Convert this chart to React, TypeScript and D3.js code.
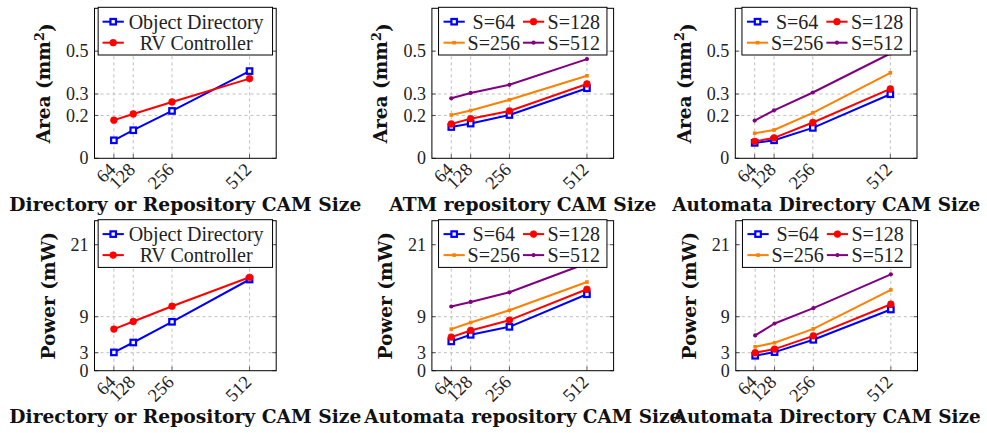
import React from "react";
import * as d3 from "d3";

// ---------- data ----------
const camSizes = [64, 128, 256, 512];
const xTickLabels = ["64", "128", "256", "512"];
const areaTicks = [0, 0.2, 0.3, 0.5];
const areaTickLabels = ["0", "0.2", "0.3", "0.5"];
const powerTicks = [0, 3, 9, 21];
const powerTickLabels = ["0", "3", "9", "21"];

const areaObjDir = [0.084, 0.131, 0.221, 0.407];
const areaRvCtrl = [0.178, 0.207, 0.263, 0.372];

const areaAtmS64 = [0.146, 0.162, 0.202, 0.327];
const areaAtmS128 = [0.16, 0.185, 0.221, 0.347];
const areaAtmS256 = [0.202, 0.223, 0.273, 0.385];
const areaAtmS512 = [0.28, 0.305, 0.343, 0.463];

const areaAutS64 = [0.072, 0.084, 0.142, 0.299];
const areaAutS128 = [0.079, 0.095, 0.167, 0.324];
const areaAutS256 = [0.117, 0.132, 0.212, 0.399];
const areaAutS512 = [0.176, 0.224, 0.307, 0.489];

const powerObjDir = [3.05, 4.7, 8.15, 15.2];
const powerRvCtrl = [6.93, 8.2, 10.75, 15.57];

const powerRepS64 = [4.88, 5.98, 7.31, 12.74];
const powerRepS128 = [5.6, 6.71, 8.42, 13.57];
const powerRepS256 = [6.93, 8.04, 10.08, 14.78];
const powerRepS512 = [10.7, 11.46, 13.07, 17.9];

const powerAutS64 = [2.49, 3.1, 5.15, 10.2];
const powerAutS128 = [2.99, 3.6, 5.81, 11.08];
const powerAutS256 = [3.99, 4.65, 6.98, 13.46];
const powerAutS512 = [5.88, 7.87, 10.42, 16.06];

const twoNames = ["Object Directory", "RV Controller"];
const fourNames = ["S=64", "S=128", "S=256", "S=512"];

// ---------- styles ----------
const BLUE = "#0000ff";
const RED = "#ff0000";
const ORANGE = "#ff8000";
const PURPLE = "#800080";
const SERIF = "'Liberation Serif', 'DejaVu Serif', serif";
const BOLD = "'DejaVu Serif', 'Liberation Serif', serif";

type Mark = "square" | "circle" | "smallsq" | "dot";
interface Series { name: string; values: number[]; color: string; mark: Mark; }
interface Panel {
  left: number; top: number; w: number; h: number;
  yMax: number; ticks: number[]; tickLabels: string[];
  series: Series[]; legendCols: number;
  ylabel: "area" | "power"; title: string; titleLen: number;
}

const twoSeries = (a: number[], b: number[]): Series[] => [
  { name: twoNames[0], values: a, color: BLUE, mark: "square" },
  { name: twoNames[1], values: b, color: RED, mark: "circle" },
];
const fourSeries = (a: number[], b: number[], c: number[], d: number[]): Series[] => [
  { name: fourNames[0], values: a, color: BLUE, mark: "square" },
  { name: fourNames[1], values: b, color: RED, mark: "circle" },
  { name: fourNames[2], values: c, color: ORANGE, mark: "smallsq" },
  { name: fourNames[3], values: d, color: PURPLE, mark: "dot" },
];

const W = 181.7, H = 150;
const panels: Panel[] = [
  { left: 94.5, top: 8.3, w: W, h: H, yMax: 0.7, ticks: areaTicks, tickLabels: areaTickLabels,
    series: twoSeries(areaObjDir, areaRvCtrl), legendCols: 1, ylabel: "area",
    title: "Directory or Repository CAM Size", titleLen: 352 },
  { left: 431.9, top: 8.3, w: W, h: H, yMax: 0.7, ticks: areaTicks, tickLabels: areaTickLabels,
    series: fourSeries(areaAtmS64, areaAtmS128, areaAtmS256, areaAtmS512), legendCols: 2, ylabel: "area",
    title: "ATM repository CAM Size", titleLen: 267 },
  { left: 735.3, top: 8.3, w: W, h: H, yMax: 0.7, ticks: areaTicks, tickLabels: areaTickLabels,
    series: fourSeries(areaAutS64, areaAutS128, areaAutS256, areaAutS512), legendCols: 2, ylabel: "area",
    title: "Automata Directory CAM Size", titleLen: 308 },
  { left: 94.5, top: 220.7, w: W, h: H, yMax: 25, ticks: powerTicks, tickLabels: powerTickLabels,
    series: twoSeries(powerObjDir, powerRvCtrl), legendCols: 1, ylabel: "power",
    title: "Directory or Repository CAM Size", titleLen: 352 },
  { left: 431.9, top: 220.7, w: W, h: H, yMax: 25, ticks: powerTicks, tickLabels: powerTickLabels,
    series: fourSeries(powerRepS64, powerRepS128, powerRepS256, powerRepS512), legendCols: 2, ylabel: "power",
    title: "Automata repository CAM Size", titleLen: 317 },
  { left: 735.8, top: 220.7, w: W, h: H, yMax: 25, ticks: powerTicks, tickLabels: powerTickLabels,
    series: fourSeries(powerAutS64, powerAutS128, powerAutS256, powerAutS512), legendCols: 2, ylabel: "power",
    title: "Automata Directory CAM Size", titleLen: 308 },
];

function Marker({ m, x, y, c }: { m: Mark; x: number; y: number; c: string }) {
  if (m === "square") return <rect x={x - 2.75} y={y - 2.75} width={5.5} height={5.5} fill="#ffffff" stroke={c} strokeWidth={2.2} />;
  if (m === "circle") return <circle cx={x} cy={y} r={3.4} fill={c} stroke={c} strokeWidth={0.6} />;
  if (m === "smallsq") return <rect x={x - 1.8} y={y - 1.8} width={3.6} height={3.6} fill={c} />;
  return <circle cx={x} cy={y} r={2.1} fill={c} />;
}

function PanelView({ p }: { p: Panel }) {
  const x = d3.scaleLinear().domain([0, 600]).range([p.left, p.left + p.w]);
  const y = d3.scaleLinear().domain([0, p.yMax]).range([p.top + p.h, p.top]);
  const line = d3.line<number>().x((_, i) => x(camSizes[i])).y((v) => y(v));
  const bottom = p.top + p.h;
  const right = p.left + p.w;
  const cx = p.left + p.w / 2;
  const cy = p.top + p.h / 2;
  const clipId = `clip-${Math.round(p.left)}-${Math.round(p.top)}`;

  // legend
  const legW = p.legendCols === 1 ? 174.4 : 168.4;
  const legH = 47.7;
  const legL = cx - legW / 2;
  const legT = p.top - 1;
  const rows = [14.4, 35.4];
  const entries = p.series.map((s, i) => {
    const col = p.legendCols === 1 ? 0 : i % 2;
    const row = p.legendCols === 1 ? i : Math.floor(i / 2);
    const lx0 = p.legendCols === 1 ? 4.4 : col === 0 ? 5 : 84.4;
    const lx1 = lx0 + (p.legendCols === 1 ? 21.3 : 21.2);
    const tx = p.legendCols === 1 ? 98 : col === 0 ? 55.2 : 135.2;
    return { s, ly: legT + rows[row], lx0: legL + lx0, lx1: legL + lx1, tx: legL + tx };
  });

  const ylx = p.ylabel === "area" ? p.left - 44.5 : p.left - 39.5;

  return (
    <g>
      <defs>
        <clipPath id={clipId}>
          <rect x={p.left} y={p.top} width={p.w} height={p.h} />
        </clipPath>
      </defs>
      {/* grid */}
      {camSizes.map((v) => (
        <line key={"gx" + v} x1={x(v)} x2={x(v)} y1={p.top} y2={bottom} stroke="#b8b8b8" strokeWidth={0.9} strokeDasharray="3,3" />
      ))}
      {p.ticks.filter((t) => t !== 0).map((t) => (
        <line key={"gy" + t} x1={p.left} x2={right} y1={y(t)} y2={y(t)} stroke="#b8b8b8" strokeWidth={0.9} strokeDasharray="3,3" />
      ))}
      {/* ticks */}
      {camSizes.map((v) => (
        <g key={"tx" + v}>
          <line x1={x(v)} x2={x(v)} y1={bottom} y2={bottom - 4} stroke="#333" strokeWidth={0.8} />
          <line x1={x(v)} x2={x(v)} y1={p.top} y2={p.top + 4} stroke="#333" strokeWidth={0.8} />
        </g>
      ))}
      {p.ticks.map((t) => (
        <g key={"ty" + t}>
          <line x1={p.left} x2={p.left + 4} y1={y(t)} y2={y(t)} stroke="#333" strokeWidth={0.8} />
          <line x1={right} x2={right - 4} y1={y(t)} y2={y(t)} stroke="#333" strokeWidth={0.8} />
        </g>
      ))}
      {/* series */}
      <g clipPath={`url(#${clipId})`}>
        {p.series.map((s) => (
          <g key={s.name}>
            <path d={line(s.values) || ""} fill="none" stroke={s.color} strokeWidth={2} strokeLinejoin="round" />
            {s.values.map((v, i) => (
              <Marker key={i} m={s.mark} x={x(camSizes[i])} y={y(v)} c={s.color} />
            ))}
          </g>
        ))}
      </g>
      {/* frame */}
      <rect x={p.left} y={p.top} width={p.w} height={p.h} fill="none" stroke="#000" strokeWidth={1} />
      {/* y tick labels */}
      {p.ticks.map((t, i) => (
        <text key={"yl" + t} x={p.left - 6} y={y(t)} dy="0.34em" textAnchor="end" fontFamily={SERIF} fontSize={18} fill="#222">
          {p.tickLabels[i]}
        </text>
      ))}
      {/* x tick labels */}
      {camSizes.map((v, i) => (
        <text key={"xl" + v} transform={`translate(${x(v) - 1.5},${bottom + 8}) rotate(-45)`} dy="0.34em" textAnchor="end" fontFamily={SERIF} fontSize={18.5} fill="#222">
          {xTickLabels[i]}
        </text>
      ))}
      {/* y label */}
      <text transform={`translate(${ylx},${cy}) rotate(-90)`} textAnchor="middle" fontFamily={BOLD} fontWeight="bold" fontSize={18.5} fill="#111">
        {p.ylabel === "area" ? (
          <>
            <tspan>Area (mm</tspan>
            <tspan dy="-0.5em" fontSize={13}>2</tspan>
            <tspan dy="0.5em">)</tspan>
          </>
        ) : (
          "Power (mW)"
        )}
      </text>
      {/* title */}
      <text x={cx} y={p.top + 202.7} textAnchor="middle" fontFamily={BOLD} fontWeight="bold" fontSize={18} fill="#111" textLength={p.titleLen} lengthAdjust="spacingAndGlyphs">
        {p.title}
      </text>
      {/* legend */}
      <rect x={legL} y={legT} width={legW} height={legH} fill="#fff" stroke="#000" strokeWidth={1} />
      {entries.map((e) => (
        <g key={"lg" + e.s.name}>
          <line x1={e.lx0} x2={e.lx1} y1={e.ly} y2={e.ly} stroke={e.s.color} strokeWidth={2} />
          <Marker m={e.s.mark} x={(e.lx0 + e.lx1) / 2} y={e.ly} c={e.s.color} />
          <text x={e.tx} y={e.ly} dy="0.34em" textAnchor="middle" fontFamily={SERIF} fontSize={20} fill="#222">
            {e.s.name}
          </text>
        </g>
      ))}
    </g>
  );
}

export default function App() {
  return (
    <svg width={987} height={433} style={{ position: "absolute", left: 0, top: 0, background: "#fff" }}>
      <rect x={0} y={0} width={987} height={433} fill="#fff" />
      {panels.map((p, i) => (
        <PanelView key={i} p={p} />
      ))}
    </svg>
  );
}
